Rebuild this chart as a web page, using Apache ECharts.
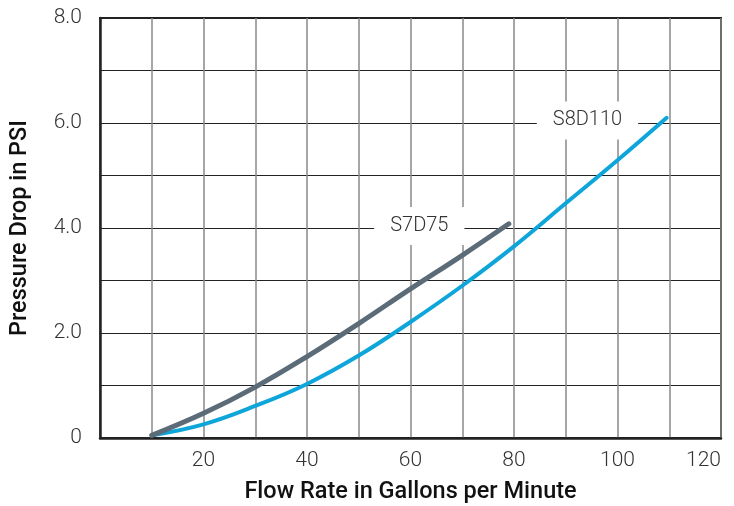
<!DOCTYPE html>
<html><head><meta charset="utf-8">
<script src="https://cdn.jsdelivr.net/npm/echarts@6/dist/echarts.min.js"></script>
<style>html,body{margin:0;padding:0;background:#fff}#c{width:734px;height:506px}</style>
</head><body><div id="c"></div>
<script>
const s7d75X = [10, 20, 30, 40, 50, 60, 70, 79];
const s7d75Y = [0.05, 0.47, 0.97, 1.55, 2.18, 2.84, 3.48, 4.08];
const s8d110X = [10, 20, 30, 40, 50, 60, 70, 80, 90, 100, 109.5];
const s8d110Y = [0.05, 0.26, 0.61, 1.03, 1.57, 2.21, 2.90, 3.65, 4.47, 5.29, 6.1];
const seriesNames = ['S7D75', 'S8D110'];
const labelPos = [[61.7, 4.04], [94.2, 6.05]];
const xTitle = 'Flow Rate in Gallons per Minute';
const yTitle = 'Pressure Drop in PSI';

const font = 'Roboto, "DejaVu Sans", sans-serif';
const chart = echarts.init(document.getElementById('c'));
function pairs(xs, ys){ return xs.map((x,i)=>[x, ys[i]]); }
function mk(name, pos){
  return {
    silent: true,
    symbol: 'rect', symbolSize: 0,
    data: [{coord: pos}],
    label: {show: true, position: 'inside', formatter: name, color: '#333', fontSize: 20, fontWeight: 300, fontFamily: font,
      backgroundColor: '#fff', padding: [9, 16, 9, 16]}
  };
}
chart.setOption({
  animation: false,
  grid: {left: 100, right: 13, top: 18, bottom: 68, containLabel: false, outerBoundsMode: 'none',
    show: true, borderColor: '#222', borderWidth: 2, backgroundColor: 'transparent'},
  xAxis: {
    type: 'value', min: 0, max: 120, interval: 10,
    name: xTitle, nameLocation: 'middle', nameGap: 42,
    nameTextStyle: {fontSize: 23.5, color: '#111', fontFamily: font, fontWeight: 500},
    axisLine: {show: true, lineStyle: {color: '#222', width: 2.5}},
    axisTick: {show: false},
    axisLabel: {margin: 12, fontSize: 21, fontWeight: 300, color: '#333', fontFamily: font, alignMaxLabel: 'right',
      formatter: v => (v > 0 && v % 20 === 0) ? String(v) : ''},
    splitLine: {show: true, lineStyle: {color: '#888', width: 1.5}}
  },
  yAxis: {
    type: 'value', min: 0, max: 8, interval: 1,
    name: yTitle, nameLocation: 'middle', nameGap: 68,
    nameTextStyle: {fontSize: 23.5, color: '#111', fontFamily: font, fontWeight: 500},
    axisLine: {show: true, lineStyle: {color: '#222', width: 2.5}},
    axisTick: {show: false},
    axisLabel: {margin: 18, fontSize: 21, fontWeight: 300, color: '#333', fontFamily: font,
      formatter: v => v === 0 ? '0' : (v % 2 === 0 ? v.toFixed(1) : '')},
    splitLine: {show: true, lineStyle: {color: '#222', width: 1.2}}
  },
  series: [
    {name: seriesNames[1], type: 'line', smooth: 0.4, symbol: 'none', data: pairs(s8d110X, s8d110Y),
      lineStyle: {color: '#0ea5da', width: 4, cap: 'round'}, z: 3, markPoint: mk(seriesNames[1], labelPos[1])},
    {name: seriesNames[0], type: 'line', smooth: 0.4, symbol: 'none', data: pairs(s7d75X, s7d75Y),
      lineStyle: {color: '#5b6b78', width: 5, cap: 'round'}, z: 4, markPoint: mk(seriesNames[0], labelPos[0])}
  ]
});
</script></body></html>
